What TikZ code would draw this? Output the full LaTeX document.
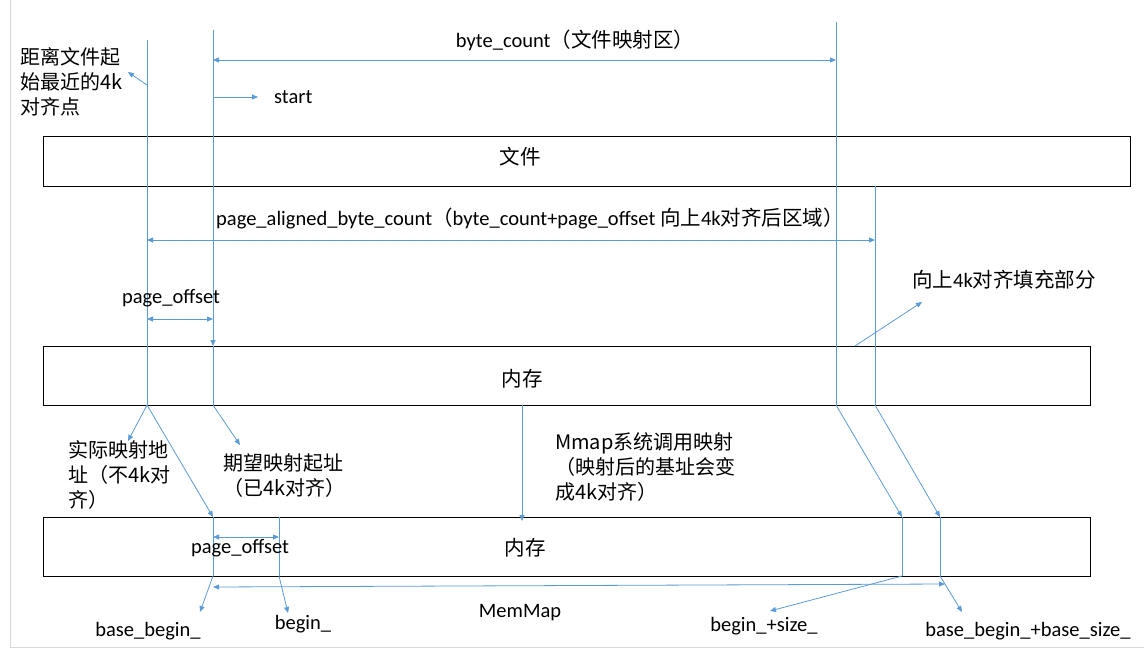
\documentclass[tikz,border=0pt]{standalone}
\usepackage{fontspec}
\setmainfont{Carlito}
\newfontfamily\cjk{Noto Sans CJK SC}
\usetikzlibrary{arrows.meta}
\definecolor{ln}{HTML}{5B9BD5}
\tikzset{
 bl/.style={draw=ln,line width=0.8pt},
 ar/.style={bl,-{Triangle[length=6pt,width=5pt]}},
 dar/.style={bl,{Triangle[length=6pt,width=5pt]}-{Triangle[length=6pt,width=5pt]}},
 box/.style={draw=black,line width=0.8pt},
 lab/.style={font=\fontsize{20.5}{24}\selectfont,inner sep=0pt,align=left},
 mlab/.style={lab,anchor=north west,font=\cjk\fontsize{20}{25}\selectfont},
}
\begin{document}
\begin{tikzpicture}[x=1pt,y=-1pt]
\useasboundingbox (0,0) rectangle (1144,651);
\draw[gray!30,line width=1pt] (10,0) -- (10,647) -- (1144,647);
% boxes
\draw[box] (43,136) rectangle (1130,186);
\node[lab] (file) at (520,157) {\cjk 文件};
\draw[box] (43,346) rectangle (1090,405);
\foreach \x in {147,213,836,875} \draw[box] (\x,346) -- (\x,405);
\node[lab] (mem1) at (522,379) {\cjk 内存};
\draw[box] (43,517) rectangle (1090,576);
\node[lab] (mem2) at (525,548) {\cjk 内存};
% coordinates
\coordinate (a0) at (147,40); \coordinate (a1) at (147,405);
\coordinate (b0) at (213,30); \coordinate (b1) at (213,346); \coordinate (b2) at (213,405);
\coordinate (c0) at (836,22); \coordinate (c1) at (836,405);
\coordinate (d0) at (875,186); \coordinate (d1) at (875,405);
\draw[bl] (a0) -- (a1);
\draw[ar] (b0) -- (b1);
\draw[bl] (b1) -- (b2);
\draw[bl] (c0) -- (c1);
\draw[bl] (d0) -- (d1);
% top annotations
\coordinate (bc1) at (213,60); \coordinate (bc2) at (836,60);
\draw[dar] (bc1) -- (bc2);
\node[lab] (bcl) at (575,40) {byte\_count{\cjk （文件映射区）}};
\coordinate (st0) at (213,97); \coordinate (st1) at (258,97);
\draw[ar] (st0) -- (st1);
\node[lab,anchor=west] (stl) at (274,97) {start};
\node[mlab] (near) at (20,47) {距离文件起\\始最近的4k\\对齐点};
\coordinate (n0) at (147,85); \coordinate (n1) at (128,72);
\draw[ar] (n0) -- (n1);
\coordinate (pa1) at (147,240); \coordinate (pa2) at (875,240);
\draw[dar] (pa1) -- (pa2);
\node[lab] (pal) at (530,218) {page\_aligned\_byte\_count{\cjk （}byte\_count+page\_offset {\cjk 向上}4k{\cjk 对齐后区域）}};
\coordinate (po1) at (147,319); \coordinate (po2) at (213,319);
\draw[dar] (po1) -- (po2);
\node[lab] (pol) at (171,298) {page\_offset};
\coordinate (f0) at (855,346); \coordinate (f1) at (922,302);
\draw[ar] (f0) -- (f1);
\node[lab,anchor=west] (fl) at (912,280) {{\cjk 向上}4k{\cjk 对齐填充部分}};
% middle arrows
\coordinate (m1) at (128,441); \coordinate (m2) at (213,517); \coordinate (m3) at (240,445);
\draw[ar] (a1) -- (m1);
\draw[ar] (a1) -- (m2);
\draw[ar] (b2) -- (m3);
\node[mlab] (real) at (68,440) {实际映射地\\址（不4k对\\齐）};
\node[mlab] (want) at (223,453) {期望映射起址\\（已4k对齐）};
\coordinate (mm0) at (522,405); \coordinate (mm1) at (522,521);
\draw[ar] (mm0) -- (mm1);
\node[mlab] (mmap) at (555,432) {Mmap系统调用映射\\（映射后的基址会变\\成4k对齐）};
\coordinate (e1) at (902,517); \coordinate (e2) at (940,517);
\draw[ar] (c1) -- (e1);
\draw[ar] (d1) -- (e2);
% bottom box lines
\coordinate (g1) at (213,576); \coordinate (h0) at (279,517); \coordinate (h1) at (279,576);
\coordinate (e1b) at (902,576); \coordinate (e2b) at (940,576);
\draw[bl] (m2) -- (g1); \draw[bl] (h0) -- (h1);
\draw[bl] (e1) -- (e1b); \draw[bl] (e2) -- (e2b);
\coordinate (p1) at (213,537); \coordinate (p2) at (279,537);
\draw[dar] (p1) -- (p2);
\node[lab] (pol2) at (240,548) {page\_offset};
\coordinate (q1) at (213,587); \coordinate (q2) at (945,584);
\draw[dar] (q1) -- (q2);
\node[lab] (memmap) at (520,613) {MemMap};
\coordinate (r1) at (200,612); \coordinate (r2) at (288,613); \coordinate (r3) at (770,611); \coordinate (r4) at (962,612);
\draw[ar] (g1) -- (r1);
\draw[ar] (h1) -- (r2);
\draw[ar] (e1b) -- (r3);
\draw[ar] (e2b) -- (r4);
\node[lab] (bb) at (148,631) {base\_begin\_};
\node[lab] (bg) at (303,624) {begin\_};
\node[lab] (bs) at (764,626) {begin\_+size\_};
\node[lab] (bbs) at (1028,631) {base\_begin\_+base\_size\_};
\end{tikzpicture}
\end{document}
